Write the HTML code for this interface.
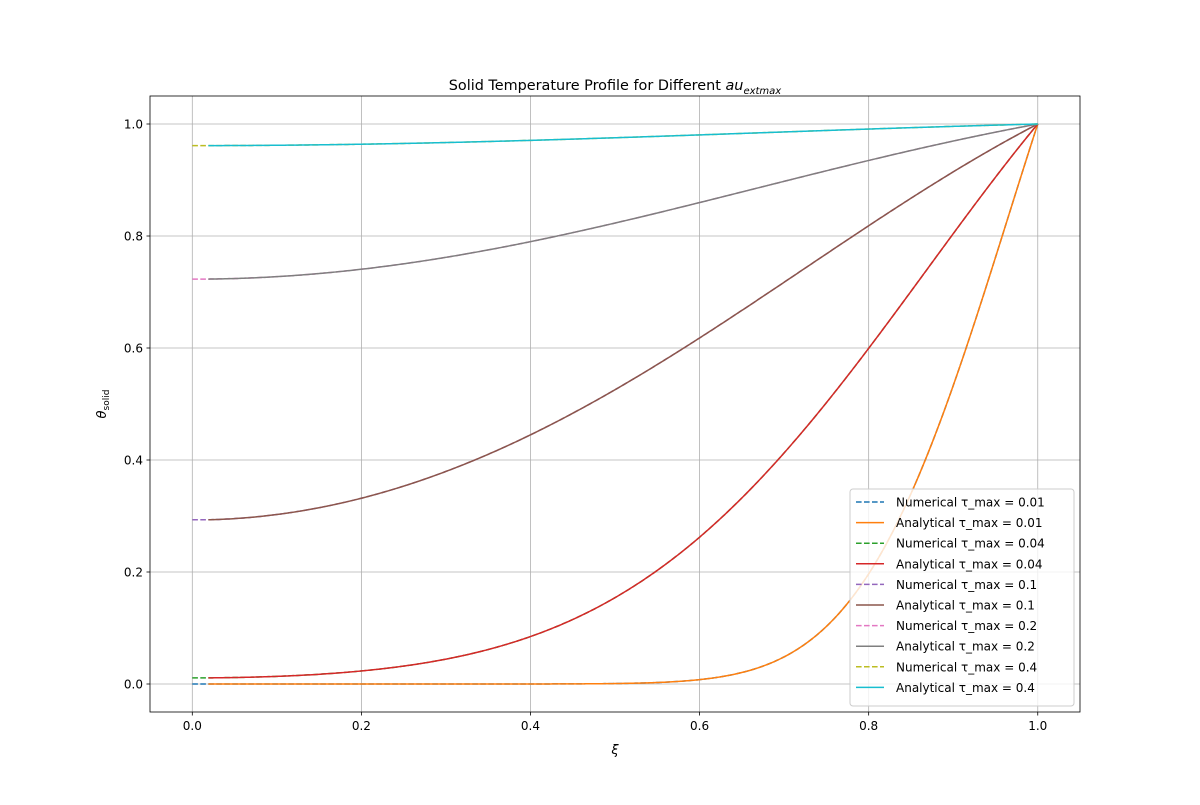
<!DOCTYPE html>
<html><head><meta charset="utf-8"><style>
body{margin:0;background:#fff;}
svg text{font-family:"DejaVu Sans","Liberation Sans",sans-serif;fill:#000;}
</style></head><body>
<svg id="s" width="1200" height="800" xmlns="http://www.w3.org/2000/svg">
<rect width="1200" height="800" fill="#fff"/>
<g id="grid" stroke="#b0b0b0" stroke-width="0.8"></g>
<g id="curves" fill="none" stroke-width="1.5"></g>
<rect x="150" y="96" width="930" height="616" fill="none" stroke="#000" stroke-width="0.8"/>
<g id="ticks" font-size="12"></g>
<text x="615" y="90" font-size="14.4" text-anchor="middle">Solid Temperature Profile for Different <tspan font-style="italic">au</tspan><tspan font-style="italic" font-size="10" dy="4">extmax</tspan></text>
<text x="615" y="754" font-size="13" font-style="italic" text-anchor="middle">ξ</text>
<text transform="translate(106,404) rotate(-90)" font-size="13" text-anchor="middle"><tspan font-style="italic">θ</tspan><tspan font-size="9" dy="3">solid</tspan></text>
<g id="legend" font-size="12"></g>
</svg>
<script>
const X=v=>192.3+v*845.45, Y=v=>684-v*560;
const g=document.getElementById('grid'),t=document.getElementById('ticks'),c=document.getElementById('curves'),L=document.getElementById('legend');
let h='',th='';
for(let i=0;i<=5;i++){const v=i*0.2,x=X(v),y=Y(v);
h+=`<line x1="${x}" y1="96" x2="${x}" y2="712"/><line x1="150" y1="${y}" x2="1080" y2="${y}"/>`;
th+=`<line x1="${x}" y1="712" x2="${x}" y2="715.5" stroke="#000" stroke-width="0.8"/><text x="${x}" y="730" text-anchor="middle">${v.toFixed(1)}</text>`;
th+=`<line x1="146.5" y1="${y}" x2="150" y2="${y}" stroke="#000" stroke-width="0.8"/><text x="143" y="${y+4.5}" text-anchor="end">${v.toFixed(1)}</text>`;}
g.innerHTML=h;t.innerHTML=th;
function th_(r,tau){if(r<1e-6)r=1e-6;let s=0;for(let n=1;n<300;n++){const e=Math.exp(-n*n*Math.PI*Math.PI*tau);if(e<1e-16)break;s+=((n%2)?-1:1)/n*Math.sin(n*Math.PI*r)*e;}return 1+2/(Math.PI*r)*s;}
const taus=[0.01,0.04,0.1,0.2,0.4];
const cols=['#1f77b4','#ff7f0e','#2ca02c','#d62728','#9467bd','#8c564b','#e377c2','#7f7f7f','#bcbd22','#17becf'];
const DA='stroke-dasharray="5.6,2.4"';
let ch='',lh='<rect x="850" y="489" width="224" height="217" rx="3" fill="#fff" fill-opacity="0.8" stroke="#ccc"/>';
taus.forEach((tau,k)=>{
const a0=0.019;
let pn='M'+X(0).toFixed(2)+','+Y(th_(a0,tau)).toFixed(2);
let p='';for(let i=0;i<=400;i++){const r=a0+(1-a0)*i/400;p+=(i?'L':'M')+X(r).toFixed(2)+','+Y(th_(r,tau)).toFixed(2);}
pn+=p.replace(/^M/,'L');
ch+=`<path d="${pn}" stroke="${cols[2*k]}" ${DA}/>`;ch+=`<path d="${p}" stroke="${cols[2*k+1]}"/>`;});
c.innerHTML=ch;
let idx=0;taus.forEach((tau,k)=>{['Numerical','Analytical'].forEach((nm,j)=>{const y=502+idx*20.6;
lh+=`<line x1="856" y1="${y}" x2="884" y2="${y}" stroke="${cols[idx]}" stroke-width="1.5" ${j?'':DA}/><text x="896" y="${y+4.5}">${nm} τ_max = ${tau}</text>`;idx++;});});
L.innerHTML=lh;
</script>
</body></html>
